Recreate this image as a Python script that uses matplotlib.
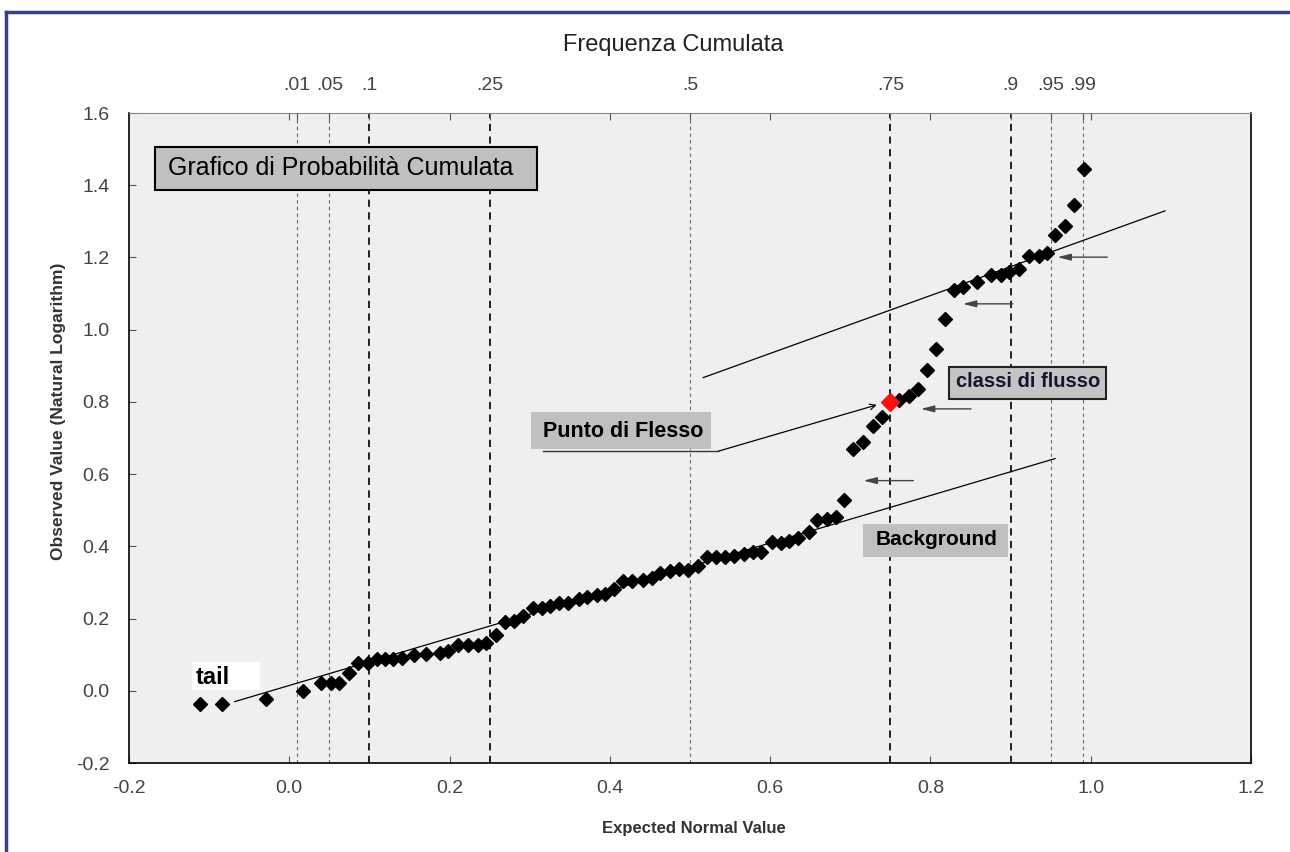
import matplotlib.pyplot as plt
import numpy as np
from matplotlib.patches import Rectangle
from matplotlib.lines import Line2D

plt.rcParams['font.family'] = ['Liberation Sans', 'DejaVu Sans']

# expected normal value (x) vs observed ln value (y)
x_exp = [-0.112, -0.084, -0.029, 0.017, 0.040, 0.052, 0.062, 0.074, 0.086, 0.098,
         0.109, 0.119, 0.130, 0.141, 0.155, 0.171, 0.188, 0.198, 0.211, 0.223,
         0.235, 0.246, 0.258, 0.269, 0.280, 0.292, 0.304, 0.315, 0.325, 0.336,
         0.348, 0.361, 0.371, 0.384, 0.394, 0.405, 0.416, 0.428, 0.441, 0.452,
         0.463, 0.475, 0.486, 0.497, 0.510, 0.521, 0.532, 0.544, 0.555, 0.567,
         0.578, 0.589, 0.602, 0.613, 0.624, 0.635, 0.648, 0.658, 0.671, 0.682,
         0.692, 0.703, 0.716, 0.728, 0.739, 0.761, 0.773, 0.785, 0.796, 0.807,
         0.818, 0.830, 0.841, 0.858, 0.876, 0.888, 0.898, 0.911, 0.923, 0.935,
         0.946, 0.956, 0.968, 0.979, 0.992]
y_obs = [-0.037, -0.037, -0.022, -0.001, 0.021, 0.021, 0.021, 0.048, 0.078, 0.078,
         0.087, 0.087, 0.087, 0.090, 0.100, 0.102, 0.106, 0.110, 0.127, 0.127,
         0.127, 0.132, 0.155, 0.191, 0.193, 0.207, 0.229, 0.230, 0.235, 0.242,
         0.244, 0.253, 0.261, 0.265, 0.268, 0.281, 0.303, 0.303, 0.307, 0.312,
         0.327, 0.333, 0.337, 0.335, 0.346, 0.370, 0.371, 0.371, 0.373, 0.379,
         0.384, 0.384, 0.412, 0.410, 0.416, 0.422, 0.441, 0.474, 0.477, 0.480,
         0.527, 0.669, 0.690, 0.732, 0.758, 0.804, 0.817, 0.835, 0.889, 0.947,
         1.030, 1.111, 1.117, 1.131, 1.152, 1.152, 1.161, 1.169, 1.204, 1.204,
         1.212, 1.261, 1.286, 1.346, 1.445]

# inflection point
flex_x, flex_y = 0.75, 0.80

# cumulative frequency reference lines
prob_pos = [0.01, 0.05, 0.1, 0.25, 0.5, 0.75, 0.9, 0.95, 0.99]
prob_lab = ['.01', '.05', '.1', '.25', '.5', '.75', '.9', '.95', '.99']
prob_bold = [False, False, True, True, False, True, True, False, False]

# hand drawn trend lines
bg_line_x, bg_line_y = [-0.068, 0.9555], [-0.030, 0.643]
top_line_x, top_line_y = [0.5166, 1.0927], [0.8673, 1.329]

fig = plt.figure(figsize=(12.9, 8.52), dpi=100)
ax = fig.add_axes([129/1290, 89/852, 1122/1290, 650/852])
ax.set_facecolor('#efefef')

for p, b in zip(prob_pos, prob_bold):
    if b:
        ax.axvline(p, color='#111111', lw=1.3, dashes=(4, 3), zorder=1)
    else:
        ax.axvline(p, color='#666666', lw=0.8, dashes=(3, 3), zorder=1)

ax.plot(bg_line_x, bg_line_y, color='black', lw=0.9, zorder=2)
ax.plot(top_line_x, top_line_y, color='black', lw=0.9, zorder=2)

ax.plot(x_exp, y_obs, 'D', color='black', ms=7, zorder=4)
ax.plot(flex_x, flex_y, 'D', color='#ff1010', ms=9, zorder=5)

ax.set_xlim(-0.2, 1.2)
ax.set_ylim(-0.2, 1.6)
ax.set_xticks(np.arange(-0.2, 1.21, 0.2))
ax.set_yticks(np.arange(-0.2, 1.61, 0.2))
ax.xaxis.set_major_formatter(plt.FormatStrFormatter('%.1f'))
ax.yaxis.set_major_formatter(plt.FormatStrFormatter('%.1f'))
ax.tick_params(direction='in', length=5, width=0.8, labelsize=14,
               labelcolor='#444444', color='#555555', pad=12)
ax.tick_params(axis='y', pad=14)
for s in ['left', 'bottom', 'right']:
    ax.spines[s].set_color('black')
    ax.spines[s].set_linewidth(1.2)
ax.spines['top'].set_color('#888888')

# top axis with cumulative frequencies
ax2 = ax.twiny()
ax2.set_xlim(ax.get_xlim())
ax2.set_xticks(prob_pos)
ax2.set_xticklabels(prob_lab)
ax2.set_xticks(np.arange(0.0, 1.01, 0.2), minor=True)
ax2.tick_params(which='both', direction='in', length=5, width=0.8,
                color='#555555', labelsize=14, labelcolor='#444444', pad=14)
for s in ax2.spines.values():
    s.set_visible(False)

fig.text(673/1290, 1 - 45/852, 'Frequenza Cumulata', fontsize=17,
         ha='center', va='center', color='#222222')
fig.text(694/1290, 1 - 828/852, 'Expected Normal Value', fontsize=12,
         fontweight='bold', ha='center', va='center', color='#333333')
fig.text(58/1290, 1 - 411/852, 'Observed Value (Natural Logarithm)', fontsize=12.5,
         fontweight='bold', rotation=90, ha='center', va='center', color='#333333')

# labelled boxes
def box(x0, y0, x1, y1, fc, ec=None, lw=1.5):
    ax.add_patch(Rectangle((x0, y0), x1 - x0, y1 - y0, fc=fc,
                           ec=ec if ec else 'none', lw=lw, zorder=6))

box(-0.168, 1.387, 0.309, 1.507, '#c0c0c0', 'black')
ax.text(-0.151, 1.447, 'Grafico di Probabilità Cumulata', fontsize=18,
        va='center', ha='left', zorder=7)

box(-0.121, 0.002, -0.037, 0.08, 'white')
ax.text(-0.117, 0.037, 'tail', fontsize=17, fontweight='bold',
        va='center', ha='left', zorder=7)

box(0.302, 0.670, 0.5258, 0.7715, '#c0c0c0')
ax.text(0.3162, 0.7187, 'Punto di Flesso', fontsize=15.5, fontweight='bold',
        va='center', ha='left', zorder=7)
ax.plot([0.3162, 0.5352], [0.6634, 0.6634], color='#333333', lw=1, zorder=6)
ax.annotate('', xy=(0.733, 0.7917), xytext=(0.5352, 0.6634),
            arrowprops=dict(arrowstyle='->', color='black', lw=0.9,
                            shrinkA=0, shrinkB=0), zorder=6)

box(0.8237, 0.8075, 1.0189, 0.8978, '#c4c4c4', '#222222')
ax.text(0.8319, 0.8562, 'classi di flusso', fontsize=14.5, fontweight='bold',
        va='center', ha='left', zorder=7, color='#141430')

box(0.7155, 0.3715, 0.8972, 0.462, '#bfbfbf')
ax.text(0.7313, 0.4197, 'Background', fontsize=15, fontweight='bold',
        va='center', ha='left', zorder=7)

# pointers to the flow classes
arrows = [(0.7787, 0.7163, 0.582), (0.8506, 0.7879, 0.7806),
          (1.0207, 0.9583, 1.2008), (0.9027, 0.8403, 1.0715)]
for xa, xb, ya in arrows:
    ax.annotate('', xy=(xb, ya), xytext=(xa, ya),
                arrowprops=dict(arrowstyle='-|>,head_length=0.8,head_width=0.2',
                                color='#444444', lw=1, shrinkA=0, shrinkB=0),
                zorder=6)

# page frame
fig.add_artist(Line2D([6/1290, 1], [1 - 12/852, 1 - 12/852], color='#3b3b9c', lw=2.5))
fig.add_artist(Line2D([6/1290, 6/1290], [0, 1 - 12/852], color='#3b3b9c', lw=2.5))

fig.savefig('out.png', dpi=100)
